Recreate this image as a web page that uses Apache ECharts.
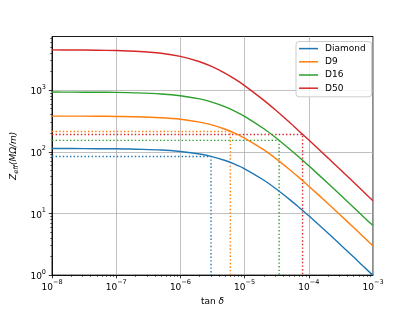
<!DOCTYPE html>
<html>
<head>
<meta charset="utf-8">
<script src="https://cdn.jsdelivr.net/npm/echarts@6/dist/echarts.min.js"></script>
<style>
html,body{margin:0;padding:0;background:#fff;}
#chart{width:415px;height:311px;}
</style>
</head>
<body>
<div id="chart"></div>
<script>
// tan δ sample positions
const tanDelta = [1e-8, 2e-8, 5e-8, 1e-7, 2e-7, 5e-7, 1e-6, 2e-6, 3e-6, 5e-6, 7e-6, 1e-5, 2e-5, 3e-5, 5e-5, 7e-5, 1e-4, 2e-4, 3e-4, 5e-4, 7e-4, 1e-3];
// Z_eff (MΩ/m) for each material
const diamond = [113, 113, 112, 112, 110, 107, 101, 92.1, 84.3, 72.1, 62.9, 52.9, 34.5, 25.6, 16.9, 12.6, 9.14, 4.77, 3.22, 1.96, 1.40, 0.99];
const d9 = [378, 378, 377, 374, 370, 356, 336, 302, 275, 232, 201, 167, 107, 79.0, 51.7, 38.4, 27.7, 14.4, 9.73, 5.89, 4.23, 2.97];
const d16 = [929, 927, 923, 917, 903, 866, 811, 719, 645, 536, 458, 376, 236, 172, 111, 82.4, 59.2, 30.6, 20.6, 12.5, 8.95, 6.37];
const d50 = [4490, 4475, 4440, 4380, 4260, 3950, 3515, 2885, 2446, 1874, 1520, 1184, 682, 479, 300, 218, 155, 78.9, 52.9, 31.9, 22.8, 16.0];
// marked operating points (dotted guides)
const seriesNames = ['Diamond', 'D9', 'D16', 'D50'];
const markTan = [3.0e-6, 6.0e-6, 3.45e-5, 8.0e-5];
const markZ = [84, 213, 153, 191];
// axis ticks
const xMajor = [1e-8, 1e-7, 1e-6, 1e-5, 1e-4, 1e-3];
const yMajor = [1, 10, 100, 1000];
const xMinor = [];
for (let e = -8; e <= -4; e++) for (let m = 2; m <= 9; m++) xMinor.push(+(m * Math.pow(10, e)).toPrecision(3));
const yMinor = [];
for (let e = 0; e <= 3; e++) for (let m = 2; m <= 9; m++) { const v = m * Math.pow(10, e); if (v <= 7400) yMinor.push(v); }

const colors = ['#1f77b4', '#ff7f0e', '#2ca02c', '#d62728'];
const values = [diamond, d9, d16, d50];
const FONT = 'DejaVu Sans';

function powLabel(v) {
  const l = Math.log10(v);
  const e = Math.round(l);
  if (Math.abs(l - e) > 1e-6) return '';
  const s = (e < 0 ? '\u2212' : '') + Math.abs(e);
  return '{b|10}{s|' + s + '}';
}
const labelRich = {
  b: { fontSize: 9, fontFamily: FONT, color: '#000', lineHeight: 13, verticalAlign: 'bottom' },
  s: { fontSize: 6.5, fontFamily: FONT, color: '#000', lineHeight: 8, verticalAlign: 'top' }
};

const series = [];
seriesNames.forEach((n, i) => {
  series.push({
    name: n, type: 'line', symbol: 'none', showSymbol: false, smooth: 0.3,
    data: tanDelta.map((t, k) => [t, values[i][k]]),
    lineStyle: { color: colors[i], width: 1.4 }, itemStyle: { color: colors[i] }, z: 3
  });
  series.push({
    name: n + ' mark', type: 'line', symbol: 'none', showSymbol: false,
    data: [[1e-8, markZ[i]], [markTan[i], markZ[i]], [markTan[i], 1]],
    lineStyle: { color: colors[i], width: 1.4, type: [1.4, 2.2] }, itemStyle: { color: colors[i] }, z: 2,
    silent: true
  });
});

const chart = echarts.init(document.getElementById('chart'), null, { renderer: 'canvas' });
chart.setOption({
  animation: false,
  backgroundColor: '#fff',
  grid: { left: 52, right: 42, top: 36.5, bottom: 35.5, show: true, borderColor: '#000', borderWidth: 0.9, backgroundColor: 'transparent' },
  xAxis: [
    {
      type: 'log', logBase: 10, min: 1e-8, max: 1e-3, position: 'bottom',
      name: '{n|tan }{d|δ}', nameLocation: 'middle', nameGap: 16,
      nameTextStyle: { rich: { n: { fontSize: 9, fontFamily: FONT, color: '#000' }, d: { fontSize: 9, fontFamily: FONT, fontStyle: 'italic', color: '#000' } } },
      axisLine: { show: true, onZero: false, lineStyle: { color: '#000', width: 0.9 } },
      axisTick: { show: true, inside: false, length: 3.2, customValues: xMajor, lineStyle: { color: '#000', width: 0.8 } },
      minorTick: { show: false },
      splitLine: { show: true, lineStyle: { color: '#b0b0b0', width: 0.8 } },
      axisLabel: { margin: 4, formatter: powLabel, rich: labelRich }
    },
    {
      type: 'log', logBase: 10, min: 1e-8, max: 1e-3, position: 'bottom', offset: 0,
      axisLine: { show: false },
      axisTick: { show: true, inside: false, length: 1.8, customValues: xMinor, lineStyle: { color: '#000', width: 0.6 } },
      axisLabel: { show: false }, splitLine: { show: false }
    }
  ],
  yAxis: [
    {
      type: 'log', logBase: 10, min: 1, max: 7400, position: 'left',
      name: '{i|Z}{sub|eff}{i|(MΩ/m)}', nameLocation: 'middle', nameRotate: 90, nameGap: 25,
      nameTextStyle: { rich: {
        i: { fontSize: 9, fontFamily: FONT, fontStyle: 'italic', color: '#000', lineHeight: 12, verticalAlign: 'middle' },
        sub: { fontSize: 6.5, fontFamily: FONT, fontStyle: 'italic', color: '#000', lineHeight: 8, verticalAlign: 'bottom' }
      } },
      axisLine: { show: true, onZero: false, lineStyle: { color: '#000', width: 0.9 } },
      axisTick: { show: true, inside: false, length: 3.2, customValues: yMajor, lineStyle: { color: '#000', width: 0.8 } },
      minorTick: { show: false },
      splitLine: { show: true, lineStyle: { color: '#b0b0b0', width: 0.8 } },
      axisLabel: { margin: 6, formatter: powLabel, rich: labelRich }
    },
    {
      type: 'log', logBase: 10, min: 1, max: 7400, position: 'left', offset: 0,
      axisLine: { show: false },
      axisTick: { show: true, inside: false, length: 1.8, customValues: yMinor, lineStyle: { color: '#000', width: 0.6 } },
      axisLabel: { show: false }, splitLine: { show: false }
    }
  ],
  legend: {
    data: seriesNames, orient: 'vertical', left: 296, top: 41.5,
    icon: 'rect', itemWidth: 19, itemHeight: 1.5, itemGap: 2,
    textStyle: { fontSize: 9, fontFamily: FONT, color: '#000', lineHeight: 11.2, padding: [0, 0, 0, 2] },
    padding: [1.5, 6, 3, 3],
    backgroundColor: 'rgba(255,255,255,0.8)', borderColor: '#cccccc', borderWidth: 1, borderRadius: 3
  },
  series: series
});
</script>
</body>
</html>
